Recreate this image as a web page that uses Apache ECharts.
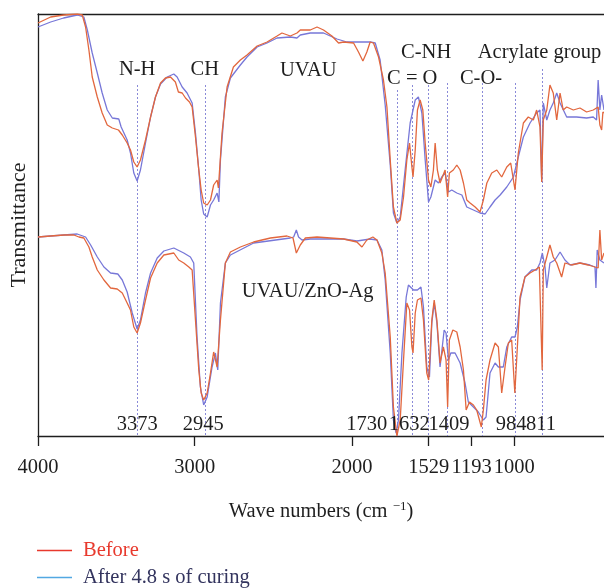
<!DOCTYPE html>
<html>
<head>
<meta charset="utf-8">
<script src="https://cdn.jsdelivr.net/npm/echarts@6/dist/echarts.min.js"></script>
<style>html,body{margin:0;padding:0;background:#fff}#c{width:604px;height:588px}</style>
</head>
<body>
<div id="c"></div>
<script>
// ---- data: [wavenumber (cm-1), transmittance (a.u.)] ----
const upperBefore = [[4000,413],[3920,419],[3838,421],[3752,422],[3720,421],[3699,409],[3678,386],[3657,359],[3625,339],[3594,323],[3562,311],[3530,308],[3491,306],[3467,301],[3436,293],[3415,286],[3394,274],[3373,269],[3352,276],[3320,296],[3288,319],[3257,339],[3225,353],[3194,358],[3162,359],[3131,354],[3112,344],[3088,343],[3067,338],[3042,334],[3025,329],[3004,299],[2985,269],[2968,246],[2952,233],[2930,231],[2909,236],[2889,251],[2867,256],[2859,248],[2836,303],[2804,349],[2764,369],[2720,376],[2678,381],[2614,390],[2551,394],[2488,400],[2457,403],[2404,400],[2362,403],[2341,406],[2278,406],[2235,409],[2194,406],[2141,400],[2099,393],[2067,394],[2004,393],[1973,384],[1945,375],[1920,384],[1899,394],[1878,393],[1846,379],[1815,356],[1793,329],[1772,276],[1752,229],[1730,213],[1709,216],[1688,239],[1667,276],[1650,293],[1635,269],[1628,259],[1614,286],[1600,326],[1583,336],[1566,326],[1551,293],[1530,256],[1515,249],[1499,266],[1488,293],[1474,266],[1457,253],[1425,266],[1409,239],[1398,263],[1373,266],[1351,271],[1330,266],[1309,253],[1288,236],[1267,233],[1235,229],[1204,224],[1183,236],[1161,253],[1130,263],[1098,266],[1067,259],[1035,269],[1010,273],[983,246],[962,283],[930,313],[899,319],[867,316],[846,326],[825,309],[814,254],[804,316],[782,326],[762,351],[741,343],[719,316],[698,343],[678,326],[656,329],[614,326],[572,328],[530,324],[488,326],[457,329],[446,311],[435,306],[427,324],[420,323]];
const upperAfter = [[4000,409],[3920,414],[3838,418],[3752,421],[3710,419],[3688,406],[3657,383],[3625,363],[3594,343],[3562,326],[3530,318],[3489,317],[3474,309],[3436,296],[3415,283],[3394,263],[3373,255],[3352,266],[3320,293],[3288,319],[3257,339],[3225,352],[3183,359],[3141,362],[3120,359],[3088,349],[3057,343],[3025,333],[3004,303],[2983,266],[2968,236],[2952,222],[2930,219],[2909,231],[2889,236],[2867,243],[2856,234],[2846,276],[2815,339],[2783,358],[2720,371],[2678,379],[2614,389],[2551,393],[2488,398],[2404,399],[2362,398],[2341,401],[2278,403],[2194,403],[2109,397],[2046,394],[1983,394],[1899,394],[1867,393],[1836,376],[1804,331],[1772,271],[1752,223],[1730,213],[1709,219],[1678,266],[1646,313],[1614,336],[1594,339],[1572,323],[1551,276],[1530,234],[1515,239],[1488,256],[1467,253],[1446,259],[1425,263],[1404,244],[1383,246],[1351,243],[1319,241],[1288,229],[1246,226],[1204,223],[1172,222],[1141,229],[1109,236],[1077,241],[1035,249],[993,259],[962,279],[930,299],[888,313],[846,323],[825,326],[814,254],[804,333],[782,316],[762,326],[741,333],[719,343],[698,333],[656,319],[593,319],[530,318],[488,319],[467,316],[457,356],[446,326],[435,341],[420,326]];
const lowerBefore = [[4000,199],[3920,200],[3836,201],[3773,201],[3741,199],[3710,198],[3678,189],[3657,179],[3625,166],[3583,156],[3541,148],[3499,147],[3467,143],[3436,133],[3415,126],[3394,109],[3373,103],[3352,113],[3320,136],[3288,158],[3246,173],[3204,181],[3141,183],[3110,176],[3078,173],[3046,169],[3025,166],[3004,116],[2983,66],[2968,43],[2952,36],[2930,43],[2909,63],[2889,84],[2867,69],[2846,116],[2815,173],[2783,184],[2720,189],[2636,194],[2530,198],[2425,200],[2387,198],[2366,183],[2341,191],[2309,198],[2235,199],[2151,198],[2067,197],[1983,194],[1951,189],[1920,196],[1882,199],[1856,196],[1825,183],[1804,163],[1772,99],[1752,29],[1730,0],[1709,16],[1688,76],[1667,133],[1650,126],[1635,89],[1628,83],[1614,123],[1600,136],[1578,138],[1562,116],[1541,63],[1529,56],[1509,116],[1494,136],[1477,116],[1457,73],[1436,89],[1419,76],[1409,29],[1398,96],[1376,106],[1351,104],[1330,89],[1309,66],[1292,26],[1271,34],[1246,31],[1225,26],[1196,9],[1183,26],[1166,56],[1141,76],[1109,93],[1088,89],[1067,43],[1046,69],[1025,93],[1004,96],[984,43],[968,89],[951,139],[920,159],[888,163],[856,166],[829,169],[811,66],[804,166],[782,179],[762,191],[741,179],[719,173],[688,159],[667,173],[625,171],[572,173],[520,171],[477,169],[457,168],[446,206],[435,176],[420,183]];
const lowerAfter = [[4000,199],[3920,200],[3836,201],[3752,202],[3699,199],[3667,191],[3625,179],[3583,169],[3541,163],[3495,162],[3467,156],[3436,144],[3404,123],[3373,107],[3352,116],[3320,143],[3288,163],[3246,178],[3204,185],[3141,188],[3078,183],[3036,179],[3015,173],[2994,99],[2973,49],[2952,31],[2930,39],[2899,69],[2878,83],[2863,66],[2846,133],[2815,173],[2783,181],[2636,193],[2404,198],[2383,199],[2366,206],[2352,199],[2330,196],[2278,197],[2067,197],[1983,195],[1899,197],[1856,196],[1825,186],[1804,156],[1772,83],[1752,16],[1735,3],[1720,16],[1698,83],[1671,139],[1657,151],[1625,146],[1600,146],[1578,149],[1562,129],[1541,69],[1524,59],[1509,113],[1494,133],[1477,113],[1457,69],[1431,106],[1419,103],[1404,76],[1389,83],[1362,83],[1330,73],[1299,53],[1278,34],[1246,29],[1215,24],[1183,16],[1166,19],[1141,63],[1109,73],[1088,69],[1057,69],[1035,89],[1004,99],[983,99],[968,109],[951,136],[920,159],[877,166],[846,166],[825,173],[810,183],[793,169],[782,148],[762,173],[730,176],[698,184],[667,176],[635,171],[572,173],[509,171],[477,169],[471,148],[463,186],[446,176],[420,173]];

// peak marker lines: wavenumber and top end
const peaks   = [3373, 2945, 1730, 1632, 1529, 1409, 1193, 984, 811];
const peakTop = [351, 351, 346, 351, 351, 353, 353, 353, 367];

// annotation texts and their anchor (wavenumber, transmittance)
const annoText = ['N-H','CH','UVAU','C-NH','C = O','C-O-','Acrylate group','UVAU/ZnO-Ag','3373','2945','1730','1632','1409','984','811'];
const annoX    = [3373, 2945, 2290, 1545, 1633, 1198, 828, 2294, 3373, 2954, 1920, 1652, 1400, 1008, 818];
const annoY    = [366, 366, 365, 383, 357, 357, 383, 144, 11, 11, 11, 11, 11, 11, 11];

// x axis ticks (position) and printed labels
const tickPos    = [4000, 3009, 2014, 1529, 1258, 987];
const tickLabels = ['4000', '3000', '2000', '1529', '1193', '1000'];

const seriesNames = ['Before', 'After 4.8 s of curing'];

const FONT = 'Liberation Serif';
const ORANGE = '#e2673e';
const BLUE = '#7777d8';
const TXT = '#1e1e1e';

const chart = echarts.init(document.getElementById('c'), null, {renderer: 'canvas'});
const lineSeries = (name, data, color, z) => ({
  name, type: 'line', data, showSymbol: false, symbol: 'none', z,
  lineStyle: {color, width: 1.3}, itemStyle: {color}, animation: false, silent: true
});
const legendBase = {
  orient: 'vertical', left: 37, padding: 0,
  icon: 'rect', itemWidth: 35, itemHeight: 1.5, selectedMode: false,
  textStyle: {fontFamily: FONT, fontSize: 20.5, padding: [0, 0, 0, 6]}
};

chart.setOption({
  animation: false,
  grid: {left: 37, right: 0, top: 14, bottom: 152, containLabel: false},
  legend: [
    Object.assign({}, legendBase, {top: 540,
      data: [{name: seriesNames[0], itemStyle: {color: '#e8392d'}, textStyle: {color: '#e8392d'}}]}),
    Object.assign({}, legendBase, {top: 567,
      data: [{name: seriesNames[1], itemStyle: {color: '#52a8e2'}, textStyle: {color: '#33345e'}}]})
  ],
  xAxis: [{
    type: 'value', min: 420, max: 4000, inverse: true, position: 'bottom',
    axisLine: {show: true, lineStyle: {color: TXT, width: 1.3}},
    axisTick: {show: true, customValues: tickPos, length: 10, lineStyle: {color: TXT, width: 1.3}},
    axisLabel: {show: true, customValues: tickPos, margin: 21, fontFamily: FONT, fontSize: 20.5, color: TXT,
      formatter: v => tickLabels[tickPos.indexOf(v)]},
    splitLine: {show: false},
    name: 'Wave numbers (cm {sup|\u22121})', nameLocation: 'middle', nameGap: 64,
    nameTextStyle: {fontFamily: FONT, fontSize: 20.5, color: TXT,
      rich: {sup: {fontFamily: FONT, fontSize: 13, color: TXT, padding: [0, 0, 10, 0]}}}
  }, {
    type: 'value', min: 420, max: 4000, inverse: true, position: 'top',
    axisLine: {show: true, lineStyle: {color: TXT, width: 1.3}},
    axisTick: {show: false}, axisLabel: {show: false}, splitLine: {show: false}
  }],
  yAxis: {
    type: 'value', min: 0, max: 422,
    axisLine: {show: true, lineStyle: {color: TXT, width: 1.3}},
    axisTick: {show: false}, axisLabel: {show: false}, splitLine: {show: false},
    name: 'Transmittance', nameLocation: 'middle', nameRotate: 90, nameGap: 8,
    nameTextStyle: {fontFamily: FONT, fontSize: 22, color: TXT}
  },
  series: [
    {
      type: 'scatter', name: 'annotations', symbol: 'circle', symbolSize: 0.1, z: 5,
      itemStyle: {color: TXT, opacity: 1}, silent: true,
      data: annoText.map((t, i) => ({name: t, value: [annoX[i], annoY[i]]})),
      label: {show: true, position: 'inside', formatter: '{b}', fontFamily: FONT, fontSize: 20.5,
        color: TXT, textBorderWidth: 0, opacity: 1},
      markLine: {
        silent: true, symbol: ['none', 'none'], animation: false, z: 1,
        lineStyle: {color: '#8a8ad8', width: 1, type: [2, 2], opacity: 1},
        label: {show: false},
        data: peaks.map((p, i) => [{coord: [p, peakTop[i]]}, {coord: [p, 0]}])
      }
    },
    lineSeries(seriesNames[1], upperAfter, BLUE, 2),
    lineSeries(seriesNames[0], upperBefore, ORANGE, 3),
    lineSeries(seriesNames[1], lowerAfter, BLUE, 2),
    lineSeries(seriesNames[0], lowerBefore, ORANGE, 3)
  ]
});
</script>
</body>
</html>
